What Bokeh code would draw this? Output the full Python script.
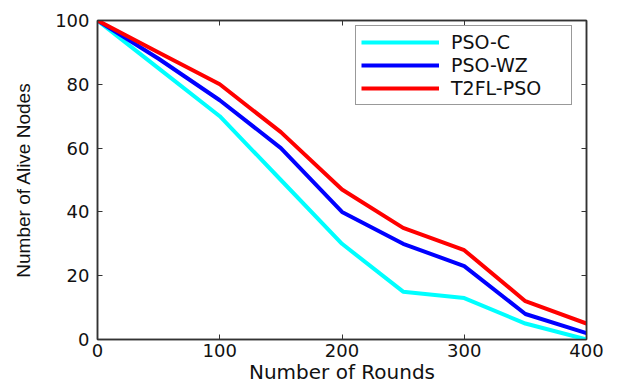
from bokeh.plotting import figure
from bokeh.models import LinearAxis, Legend, LegendItem, Range1d, FixedTicker
from bokeh.embed import file_html
from bokeh.resources import INLINE

# Alive nodes per round for the three clustering schemes
rounds = [0, 50, 100, 150, 200, 250, 300, 350, 400]
pso_c = [100, 85, 70, 50, 30, 15, 13, 5, 0]
pso_wz = [100, 88, 75, 60, 40, 30, 23, 8, 2]
t2fl_pso = [100, 90, 80, 65, 47, 35, 28, 12, 5]

x_ticks = [0, 100, 200, 300, 400]
y_ticks = [0, 20, 40, 60, 80, 100]

FONT = "DejaVu Sans"
AXIS_COLOR = "#333333"
TEXT_COLOR = "#111111"

p = figure(width=619, height=387, output_backend="svg", toolbar_location=None,
           x_range=Range1d(0, 400), y_range=Range1d(0, 100),
           min_border_left=97, min_border_right=33, min_border_top=20, min_border_bottom=48,
           x_axis_location=None, y_axis_location=None)
p.xgrid.visible = False
p.ygrid.visible = False
p.outline_line_color = AXIS_COLOR
p.outline_line_width = 1.5
p.background_fill_color = "white"
p.border_fill_color = "white"


def style_axis(ax, labels=True):
    ax.axis_line_color = AXIS_COLOR
    ax.axis_line_width = 1.5
    ax.major_tick_line_color = AXIS_COLOR
    ax.major_tick_in = 5
    ax.major_tick_out = 0
    ax.minor_tick_line_color = None
    ax.major_label_text_font = FONT
    ax.major_label_text_font_size = "18px"
    ax.major_label_text_color = TEXT_COLOR
    ax.axis_label_text_font = FONT
    ax.axis_label_text_font_size = "20px"
    ax.axis_label_text_font_style = "normal"
    ax.axis_label_text_color = TEXT_COLOR
    if not labels:
        ax.major_label_text_font_size = "0px"
        ax.major_label_text_alpha = 0


xb = LinearAxis(axis_label="Number of Rounds", ticker=FixedTicker(ticks=x_ticks))
style_axis(xb)
xb.major_label_standoff = 4
xb.axis_label_standoff = 0
p.add_layout(xb, "below")

yl = LinearAxis(axis_label="Number of Alive Nodes", ticker=FixedTicker(ticks=y_ticks))
style_axis(yl)
yl.axis_label_text_font = "Liberation Sans"
yl.axis_label_text_font_size = "19px"
yl.major_label_standoff = 8
yl.axis_label_standoff = 18
p.add_layout(yl, "left")

xt = LinearAxis(ticker=FixedTicker(ticks=x_ticks))
style_axis(xt, labels=False)
p.add_layout(xt, "above")

yr = LinearAxis(ticker=FixedTicker(ticks=y_ticks))
style_axis(yr, labels=False)
p.add_layout(yr, "right")

r1 = p.line(rounds, pso_c, line_color="#00ffff", line_width=4)
r2 = p.line(rounds, pso_wz, line_color="#0000ff", line_width=4)
r3 = p.line(rounds, t2fl_pso, line_color="#ff0000", line_width=4)

legend = Legend(items=[
    LegendItem(label="PSO-C", renderers=[r1]),
    LegendItem(label="PSO-WZ", renderers=[r2]),
    LegendItem(label="T2FL-PSO", renderers=[r3]),
], location=(258, 234))
legend.label_text_font = FONT
legend.label_text_font_size = "19px"
legend.label_text_color = TEXT_COLOR
legend.glyph_width = 78
legend.glyph_height = 20
legend.label_height = 20
legend.label_width = 115
legend.label_standoff = 12
legend.spacing = 1
legend.padding = 5
legend.margin = 0
legend.border_line_color = "#333333"
legend.border_line_width = 1
legend.background_fill_color = "white"
p.add_layout(legend, "center")

open("out.html", "w").write(file_html(p, INLINE))
